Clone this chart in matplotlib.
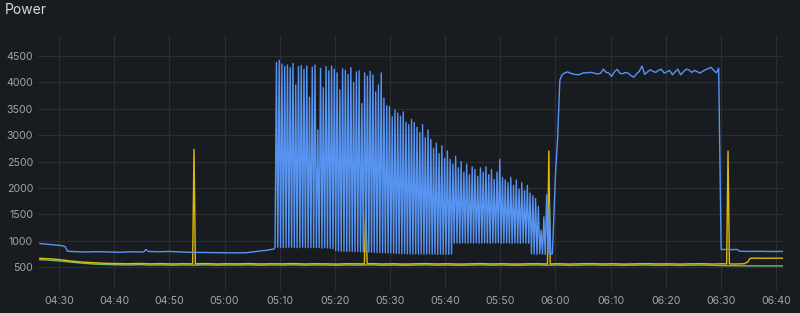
"""
Grafana 風格的 Power 時序圖（深色主題）
輸出：out.png
"""
import matplotlib
matplotlib.use('Agg')
import matplotlib.pyplot as plt
import matplotlib.dates as mdates
import numpy as np
import pandas as pd

# ── 資料（時間 = 04:00 之後的分鐘數）──────────────────────────────────── #
# 藍線：啟動前的基線
blue_pre_t = [26.5, 27.5, 28.5, 29.5, 30.5, 31.1, 31.5, 33, 35, 37, 39, 41, 43, 45,
              45.4, 45.7, 46.2, 48, 50, 52, 54, 56, 58, 60, 62, 64,
              65.5, 66.5, 67.5, 68.3, 68.9]
blue_pre_v = [945, 935, 925, 915, 905, 885, 800, 790, 785, 790, 785, 780, 788, 785,
              790, 830, 795, 790, 795, 785, 778, 775, 772, 770, 768, 772,
              790, 805, 815, 830, 840]

# 藍線：05:09 ~ 05:59 的脈衝區（每 15 秒一點，谷 / 峰交替）
spike_start = 69.15
spike_peaks = [4380, 4420, 4350, 4300, 4330, 4280, 4360, 3950, 4300, 4320,
               4250, 4310, 3720, 4290, 4330, 3100, 4270, 3900, 4300, 4220,
               4310, 4250, 4180, 3860, 4260, 4230, 4150, 4280, 4000, 4200,
               4220, 3600, 4180, 4120, 4210, 4140, 3820, 3950, 4180, 3700,
               3560, 3540, 3350, 3480, 3420, 3360, 3440, 3250, 3200, 3300,
               3240, 3150, 3050, 3200, 2950, 3100, 2920, 2750, 2850, 2650,
               2800, 2560, 2700, 2540, 2450, 2600, 2380, 2500, 2300, 2450,
               2250, 2400, 2350, 2220, 2380, 2300, 2400, 2250, 2350, 2160,
               2300, 2540, 2200, 2150, 2100, 2200, 2050, 2150, 1980, 2100,
               1950, 2050, 1900, 1850, 1800, 1650, 1200, 1450, 1870, 1700]
spike_troughs = [870, 875, 870, 865, 870, 875, 870, 870, 865, 870,
                 875, 870, 865, 870, 870, 865, 870, 860, 865, 860,
                 855, 850, 810, 805, 800, 800, 795, 800, 795, 790,
                 795, 790, 785, 790, 785, 780, 780, 775, 775, 770,
                 770, 765, 765, 760, 760, 755, 750, 755, 750, 750,
                 745, 750, 745, 750, 745, 745, 750, 745, 745, 740,
                 745, 740, 745, 740, 745, 950, 955, 950, 960, 955,
                 950, 960, 955, 960, 950, 955, 960, 955, 950, 960,
                 955, 960, 950, 955, 960, 955, 950, 960, 955, 950,
                 960, 955, 950, 750, 745, 740, 750, 745, 740, 745]

# 藍線：06:00 爬升
blue_rise_t = [119.15, 119.45, 120.0, 120.4, 120.8]
blue_rise_v = [745, 750, 2240, 2950, 4045]

# 藍線：06:01 ~ 06:30 高原（每 30 秒一點）
plateau_start = 121.2
plateau_v = [4145, 4180, 4200, 4175, 4160, 4150, 4145, 4165, 4185, 4180,
             4190, 4185, 4170, 4160, 4175, 4250, 4190, 4175, 4115, 4200,
             4250, 4170, 4165, 4190, 4175, 4130, 4100, 4160, 4210, 4310,
             4150, 4200, 4240, 4210, 4190, 4230, 4250, 4177, 4200, 4228,
             4145, 4200, 4250, 4145, 4200, 4250, 4240, 4190, 4228, 4205,
             4177, 4210, 4240, 4260, 4285, 4230, 4180, 4270]

# 藍線：06:30 之後
blue_post_t = [150.05, 151, 152, 153.0, 153.4, 155, 157, 159, 161.3]
blue_post_v = [830, 835, 830, 832, 800, 795, 798, 794, 796]

# 黃線
yellow_t = [26.5, 28.5, 30.5, 32.5, 34.5, 36.5, 38.5, 40.5, 42.5, 44.5,
            46.5, 48.5, 50.5, 52.5, 54.2, 54.45, 54.7, 56.5, 58.5, 60.5,
            62.5, 64.5, 66.5, 68.5, 70.5, 72.5, 74.5, 76.5, 78.5, 80.5,
            82.5, 84.5, 85.35, 85.6, 85.85, 86.5, 88.5, 90.5, 92.5, 94.5,
            96.5, 98.5, 100.5, 102.5, 104.5, 106.5, 108.5, 110.5, 112.5, 114.5,
            116.5, 118.55, 118.8, 119.05, 120.5, 122.5, 124.5, 126.5, 128.5, 130.5,
            132.5, 134.5, 136.5, 138.5, 140.5, 142.5, 144.5, 146.5, 148.5, 150.5,
            151.05, 151.3, 151.55, 152.5, 154.3, 154.9, 155.3, 156.5, 158.5, 160.5,
            161.3]
yellow_v = [665, 655, 635, 610, 592, 580, 570, 566, 562, 568,
            560, 565, 558, 563, 560, 2730, 560, 566, 558, 562,
            560, 565, 558, 562, 560, 566, 558, 563, 560, 557,
            563, 560, 560, 1700, 560, 565, 558, 562, 556, 561,
            565, 558, 562, 556, 560, 565, 558, 562, 556, 560,
            563, 558, 2700, 558, 562, 556, 561, 565, 558, 562,
            556, 560, 564, 558, 561, 556, 560, 563, 557, 561,
            558, 2700, 558, 556, 562, 600, 665, 668, 665, 668,
            666]

# 綠線（每 2 分鐘一點）
green_start = 26.5
green_v = [640, 628, 610, 588, 570, 555, 548, 542, 538, 544,
           536, 540, 534, 539, 535, 541, 534, 538, 536, 540,
           533, 538, 535, 541, 534, 538, 536, 532, 538, 535,
           540, 533, 537, 531, 536, 540, 533, 537, 531, 535,
           540, 533, 537, 531, 535, 538, 533, 537, 531, 535,
           539, 533, 536, 531, 535, 538, 532, 536, 530, 534,
           537, 531, 526, 524, 522, 521, 520, 521, 520]

y_ticks = [500, 1000, 1500, 2000, 2500, 3000, 3500, 4000, 4500]

# ── 組合序列 ────────────────────────────────────────────────────────────── #
base = pd.Timestamp('2024-01-01 04:00')


def to_time(minutes):
    return base + pd.to_timedelta(np.asarray(minutes, dtype=float), unit='m')


n_sp = len(spike_peaks)
spike_t = spike_start + 0.25 * np.arange(2 * n_sp)
spike_v = np.empty(2 * n_sp)
spike_v[0::2] = spike_troughs
spike_v[1::2] = spike_peaks

plateau_t = plateau_start + 0.5 * np.arange(len(plateau_v) - 1)
plateau_t = np.append(plateau_t, 149.6)

blue_t = np.concatenate([blue_pre_t, spike_t, blue_rise_t, plateau_t, blue_post_t])
blue_v = np.concatenate([blue_pre_v, spike_v, blue_rise_v, plateau_v, blue_post_v])

green_t = np.append(green_start + 2.0 * np.arange(len(green_v) - 1), 161.3)

# ── 圖表 ────────────────────────────────────────────────────────────────── #
BG = '#181b1f'
GRID = '#2b2e34'
TXT = '#a4a5ac'

plt.rcParams['font.family'] = ['Inter', 'DejaVu Sans']

fig = plt.figure(figsize=(8.0, 3.13), dpi=100, facecolor=BG)
ax = fig.add_axes([38 / 800, 1 - 290 / 313, 745 / 800, 254 / 313])
ax.set_facecolor(BG)

# 黃線畫在藍線下面：05:25 的尖峰幾乎被藍色脈衝蓋住
ax.plot(to_time(green_t), green_v, color='#73BF69', lw=1.0, zorder=3)
ax.plot(to_time(yellow_t), yellow_v, color='#F2CC0C', lw=1.0, alpha=0.9, zorder=4)
ax.plot(to_time(blue_t), blue_v, color='#5794F2', lw=1.0, zorder=5)

ax.set_xlim(to_time(26.16), to_time(161.27))
ax.set_ylim(64, 4880)
ax.set_yticks(y_ticks)
ax.xaxis.set_major_locator(mdates.MinuteLocator(byminute=range(0, 60, 10)))
ax.xaxis.set_major_formatter(mdates.DateFormatter('%H:%M'))

ax.grid(True, color=GRID, lw=0.8)
ax.set_axisbelow(True)
for s in ax.spines.values():
    s.set_visible(False)
ax.tick_params(axis='both', length=0, labelsize=7.6, colors=TXT)
ax.tick_params(axis='x', pad=4.5)
ax.tick_params(axis='y', pad=3.6)

fig.text(5 / 800, 1 - 9.5 / 313, 'Power', color='#d8d9da', fontsize=10,
         ha='left', va='center')

fig.savefig('out.png', dpi=100, facecolor=BG)
